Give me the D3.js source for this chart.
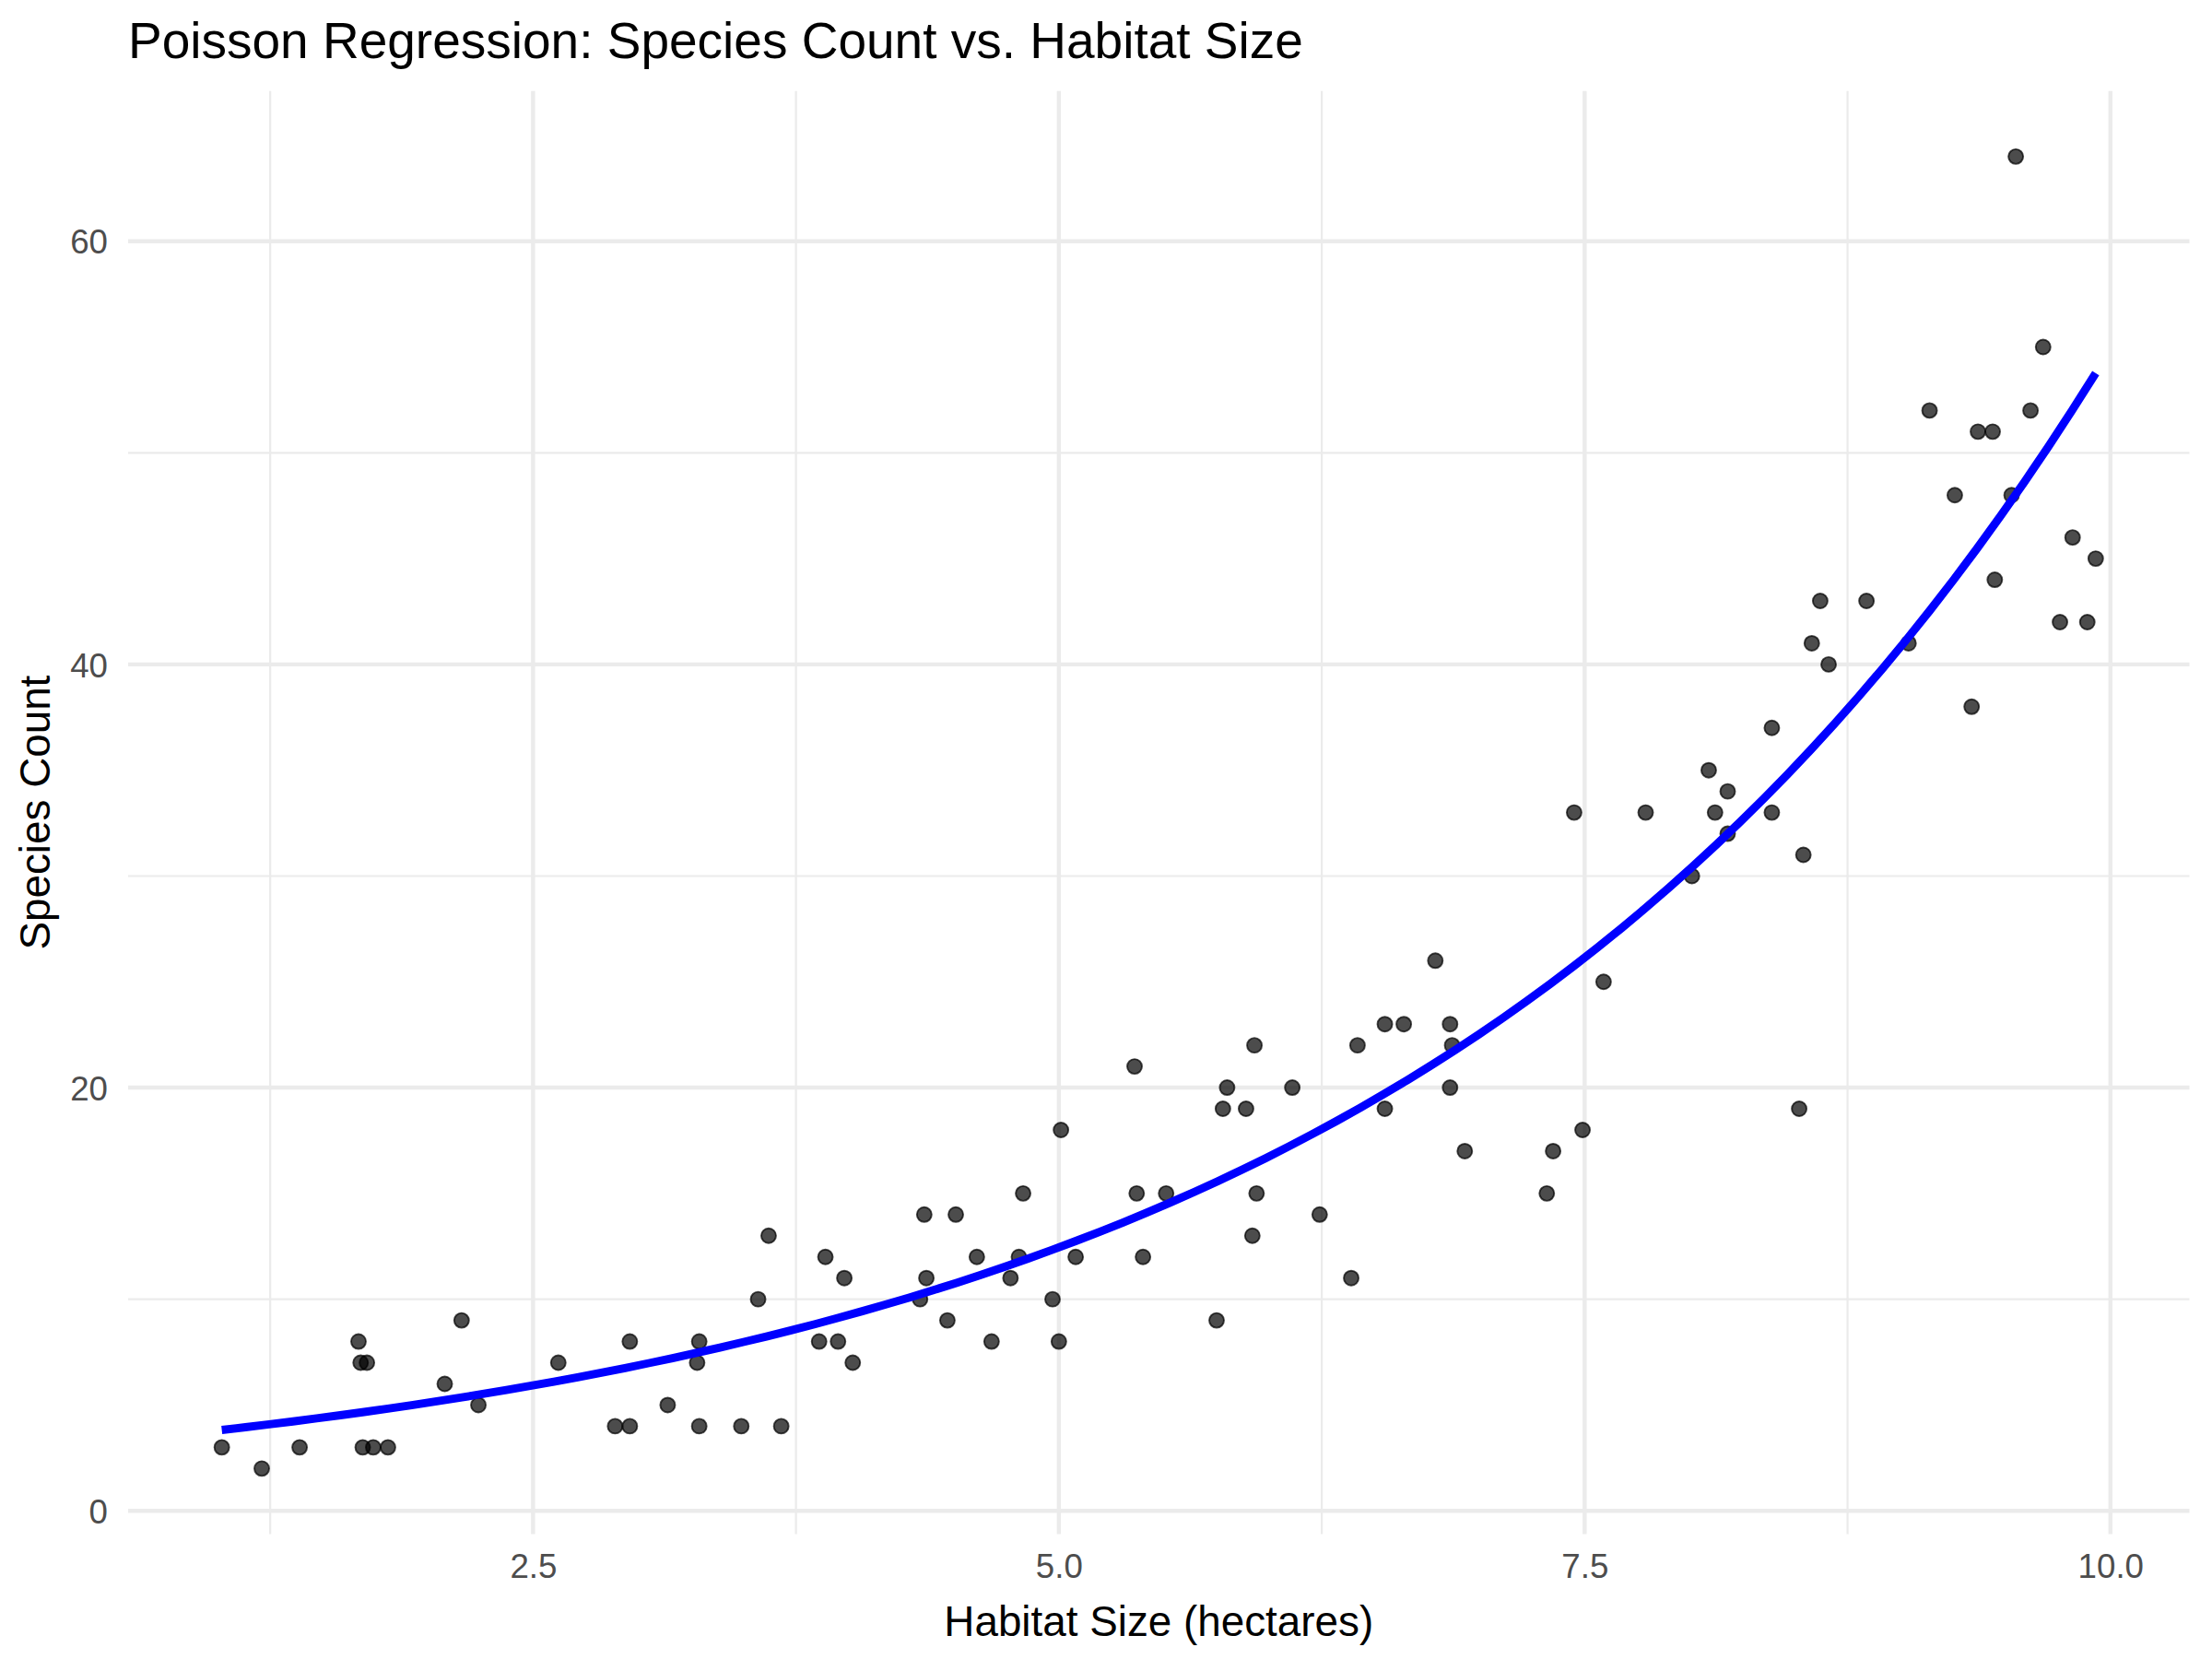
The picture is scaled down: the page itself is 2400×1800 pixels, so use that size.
<!DOCTYPE html>
<html>
<head>
<meta charset="utf-8">
<script src="https://cdn.jsdelivr.net/npm/d3@7"></script>
<style>
  body { margin: 0; background: #fff; }
  text { font-family: "Liberation Sans", Arial, Helvetica, sans-serif; }
</style>
</head>
<body>
<script>
// habitat size (hectares) of each site
var habitatSize = [
  1.02, 1.21, 1.39, 1.67, 1.68, 1.71, 1.69, 1.74, 1.81, 2.08,
  2.16, 2.24, 2.62, 2.89, 2.96, 2.96, 3.14, 3.28, 3.29, 3.29,
  3.49, 3.57, 3.62, 3.68, 3.86, 3.89, 3.95, 3.98, 4.02, 4.34,
  4.36, 4.37, 4.47, 4.51, 4.61, 4.68, 4.77, 4.81, 4.83, 4.97,
  5.00, 5.01, 5.08, 5.36, 5.37, 5.40, 5.51, 5.75, 5.78, 5.80,
  5.89, 5.92, 5.93, 5.94, 6.11, 6.24, 6.39, 6.42, 6.55, 6.55,
  6.64, 6.79, 6.86, 6.86, 6.87, 6.93, 7.32, 7.35, 7.45, 7.49,
  7.59, 7.79, 8.01, 8.09, 8.12, 8.18, 8.18, 8.39, 8.39, 8.52,
  8.54, 8.58, 8.62, 8.66, 8.84, 9.04, 9.14, 9.26, 9.34, 9.37,
  9.44, 9.45, 9.53, 9.55, 9.62, 9.68, 9.76, 9.82, 9.89, 9.93
];
// observed species count at each site
var speciesCount = [
  3, 2, 3, 8, 7, 7, 3, 3, 3, 6,
  9, 5, 7, 4, 4, 8, 5, 7, 8, 4,
  4, 10, 13, 4, 8, 12, 8, 11, 7, 10,
  14, 11, 9, 14, 12, 8, 11, 12, 15, 10,
  8, 18, 12, 21, 15, 12, 15, 9, 19, 20,
  19, 13, 22, 15, 20, 14, 11, 22, 23, 19,
  23, 26, 23, 20, 22, 17, 15, 17, 33, 18,
  25, 33, 30, 35, 33, 34, 32, 37, 33, 19,
  31, 41, 43, 40, 43, 41, 52, 48, 38, 51,
  51, 44, 48, 64, 52, 55, 42, 46, 42, 45
];
var xTicks = [2.5, 5.0, 7.5, 10.0];
var xMinor = [1.25, 3.75, 6.25, 8.75];
var yTicks = [0, 20, 40, 60];
var yMinor = [10, 30, 50];

var W = 2400, H = 1800;
var pLeft = 139, pRight = 2375.5, pTop = 98.7, pBottom = 1664.5;

var pts = habitatSize.map(function(x, i) { return {x: x, y: speciesCount[i]}; });

// poisson glm (log link) fitted by IRLS, like geom_smooth(method = "glm")
function fitPoisson(xs, ys) {
  var a = 0, b = 0;
  var mu = ys.map(function(v) { return v + 0.1; });
  var eta = mu.map(Math.log);
  for (var it = 0; it < 30; it++) {
    var sw = 0, swx = 0, swxx = 0, swz = 0, swxz = 0;
    for (var i = 0; i < xs.length; i++) {
      var w = mu[i];
      var z = eta[i] + (ys[i] - mu[i]) / mu[i];
      sw += w; swx += w * xs[i]; swxx += w * xs[i] * xs[i];
      swz += w * z; swxz += w * xs[i] * z;
    }
    var det = sw * swxx - swx * swx;
    a = (swxx * swz - swx * swxz) / det;
    b = (sw * swxz - swx * swz) / det;
    for (var j = 0; j < xs.length; j++) {
      eta[j] = a + b * xs[j];
      mu[j] = Math.exp(eta[j]);
    }
  }
  return [a, b];
}
var coef = fitPoisson(habitatSize, speciesCount);

var xExt = d3.extent(habitatSize), yExt = d3.extent(speciesCount);
var xPad = (xExt[1] - xExt[0]) * 0.05, yPad = (yExt[1] - yExt[0]) * 0.05;

var x = d3.scaleLinear()
  .domain([xExt[0] - xPad, xExt[1] + xPad])
  .range([pLeft, pRight]);
var y = d3.scaleLinear()
  .domain([yExt[0] - yPad, yExt[1] + yPad])
  .range([pBottom, pTop]);

var curve = d3.range(80).map(function(i) {
  var xv = xExt[0] + (xExt[1] - xExt[0]) * i / 79;
  return {x: xv, y: Math.exp(coef[0] + coef[1] * xv)};
});

var svg = d3.select("body").append("svg")
  .attr("width", W)
  .attr("height", H);

svg.append("rect").attr("width", W).attr("height", H).attr("fill", "#fff");

// grid
var grid = svg.append("g");
grid.selectAll(".ymin").data(yMinor).enter().append("line")
  .attr("x1", pLeft).attr("x2", pRight)
  .attr("y1", function(d) { return y(d); }).attr("y2", function(d) { return y(d); })
  .attr("stroke", "#EBEBEB").attr("stroke-width", 2.2);
grid.selectAll(".xmin").data(xMinor).enter().append("line")
  .attr("y1", pTop).attr("y2", pBottom)
  .attr("x1", function(d) { return x(d); }).attr("x2", function(d) { return x(d); })
  .attr("stroke", "#EBEBEB").attr("stroke-width", 2.2);
grid.selectAll(".ymaj").data(yTicks).enter().append("line")
  .attr("x1", pLeft).attr("x2", pRight)
  .attr("y1", function(d) { return y(d); }).attr("y2", function(d) { return y(d); })
  .attr("stroke", "#EBEBEB").attr("stroke-width", 4.4);
grid.selectAll(".xmaj").data(xTicks).enter().append("line")
  .attr("y1", pTop).attr("y2", pBottom)
  .attr("x1", function(d) { return x(d); }).attr("x2", function(d) { return x(d); })
  .attr("stroke", "#EBEBEB").attr("stroke-width", 4.4);

// points
svg.append("g").selectAll("circle")
  .data(pts)
  .enter()
  .append("circle")
  .attr("cx", function(d) { return x(d.x); })
  .attr("cy", function(d) { return y(d.y); })
  .attr("r", 8)
  .attr("fill", "#000")
  .attr("fill-opacity", 0.7)
  .attr("stroke", "#000")
  .attr("stroke-opacity", 0.7)
  .attr("stroke-width", 1.9);

// fitted line
svg.append("path")
  .datum(curve)
  .attr("d", d3.line().x(function(d) { return x(d.x); }).y(function(d) { return y(d.y); }))
  .attr("fill", "none")
  .attr("stroke", "#0000FF")
  .attr("stroke-width", 8.9);

// axes
var xAxis = svg.append("g")
  .attr("transform", "translate(0," + pBottom + ")")
  .call(d3.axisBottom(x).tickValues(xTicks).tickFormat(d3.format(".1f")).tickSize(0).tickPadding(0));
xAxis.select(".domain").remove();
xAxis.selectAll("text")
  .attr("y", 47).attr("dy", null)
  .attr("font-size", 36.7)
  .attr("font-family", "Liberation Sans, Arial, sans-serif")
  .attr("fill", "#4D4D4D");

var yAxis = svg.append("g")
  .attr("transform", "translate(117,0)")
  .call(d3.axisLeft(y).tickValues(yTicks).tickSize(0).tickPadding(0));
yAxis.select(".domain").remove();
yAxis.selectAll("text")
  .attr("x", 0).attr("dy", "0.36em")
  .attr("font-size", 36.7)
  .attr("font-family", "Liberation Sans, Arial, sans-serif")
  .attr("fill", "#4D4D4D");

// titles
svg.append("text")
  .attr("x", pLeft).attr("y", 63)
  .attr("font-size", 55)
  .attr("fill", "#000")
  .text("Poisson Regression: Species Count vs. Habitat Size");

svg.append("text")
  .attr("x", (pLeft + pRight) / 2).attr("y", 1775)
  .attr("text-anchor", "middle")
  .attr("font-size", 45.8)
  .attr("fill", "#000")
  .text("Habitat Size (hectares)");

svg.append("text")
  .attr("transform", "translate(54," + ((pTop + pBottom) / 2) + ") rotate(-90)")
  .attr("text-anchor", "middle")
  .attr("font-size", 45.8)
  .attr("fill", "#000")
  .text("Species Count");
</script>
</body>
</html>
